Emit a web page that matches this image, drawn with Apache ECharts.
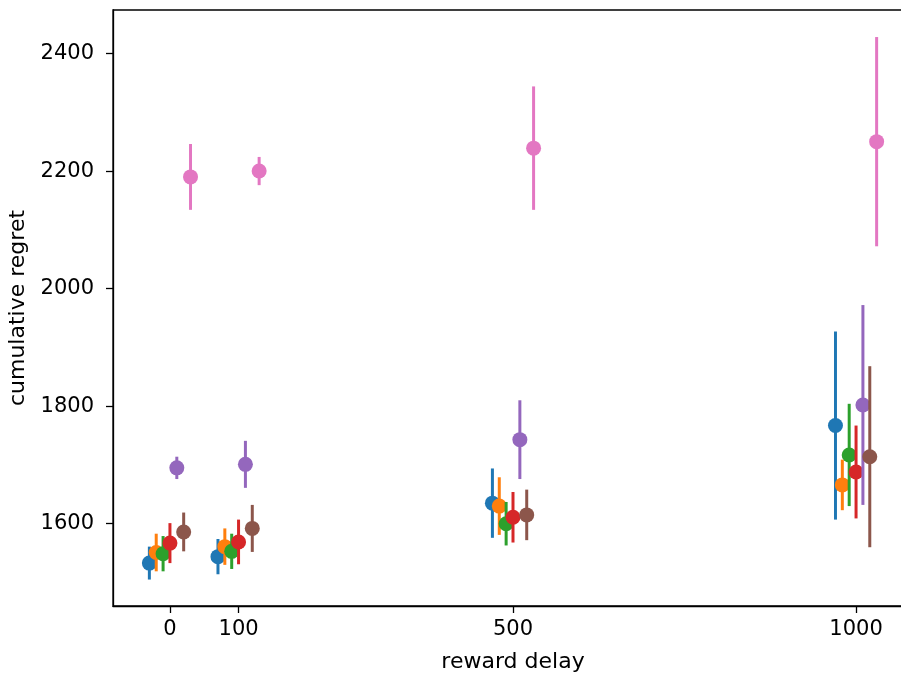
<!DOCTYPE html>
<html>
<head>
<meta charset="utf-8">
<script src="https://cdn.jsdelivr.net/npm/echarts@6/dist/echarts.min.js"></script>
<style>html,body{margin:0;padding:0;background:#fff}#c{width:901px;height:675px}</style>
</head>
<body>
<div id="c"></div>
<script>
var delays = [0, 100, 500, 1000];
var offsets = [-30, -20, -10, 0, 10, 20, 30];
var colors = ['#1f77b4', '#ff7f0e', '#2ca02c', '#d62728', '#9467bd', '#8c564b', '#e377c2'];
var xTicks = [0, 100, 500, 1000];
var yTicks = [1600, 1800, 2000, 2200, 2400];

// mean values per series at each delay
var mean0 = [1533, 1544, 1635, 1767];
var mean1 = [1551, 1561, 1630, 1666];
var mean2 = [1549, 1553, 1600, 1717];
var mean3 = [1567, 1569, 1611, 1688];
var mean4 = [1695, 1701, 1743, 1802];
var mean5 = [1586, 1592, 1615, 1714];
var mean6 = [2190, 2200, 2239, 2250];
// error half-widths
var err0 = [28, 30, 59, 160];
var err1 = [32, 31, 49, 43];
var err2 = [30, 30, 37, 87];
var err3 = [34, 38, 43, 79];
var err4 = [19, 40, 67, 170];
var err5 = [33, 40, 43, 154];
var err6 = [56, 24, 105, 178];

var means = [mean0, mean1, mean2, mean3, mean4, mean5, mean6];
var errs = [err0, err1, err2, err3, err4, err5, err6];

var series = [];
means.forEach(function (m, i) {
  var pts = [], bars = [];
  delays.forEach(function (d, j) {
    var x = d + offsets[i];
    pts.push([x, m[j]]);
    bars.push([x, m[j] - errs[i][j], m[j] + errs[i][j]]);
  });
  series.push({
    type: 'custom',
    z: 2 + 2 * i,
    silent: true,
    data: bars,
    encode: { x: 0, y: [1, 2] },
    renderItem: function (params, api) {
      var p1 = api.coord([api.value(0), api.value(1)]);
      var p2 = api.coord([api.value(0), api.value(2)]);
      return {
        type: 'line',
        shape: { x1: p1[0], y1: p1[1], x2: p2[0], y2: p2[1] },
        style: { stroke: colors[i], lineWidth: 3 }
      };
    }
  });
  series.push({
    type: 'scatter',
    z: 3 + 2 * i,
    silent: true,
    symbolSize: 15,
    itemStyle: { color: colors[i], opacity: 1 },
    data: pts
  });
});

var font = 'DejaVu Sans';
function plain(v) { return String(v); }
var chart = echarts.init(document.getElementById('c'));
chart.setOption({
  animation: false,
  backgroundColor: '#fff',
  grid: { left: 113, right: -12, top: 10, bottom: 69, containLabel: false, outerBoundsMode: 'none', show: true, borderColor: '#000', borderWidth: 1.3, backgroundColor: 'transparent' },
  xAxis: {
    type: 'value', min: -83, max: 1083,
    name: 'reward delay', nameLocation: 'middle', nameGap: 45,
    nameTextStyle: { fontFamily: font, fontSize: 22, color: '#000' },
    splitLine: { show: false },
    axisLine: { show: true, onZero: false, lineStyle: { color: '#000', width: 1.3 } },
    axisTick: { show: true, length: 7, customValues: xTicks, lineStyle: { color: '#000', width: 1.3 } },
    axisLabel: { customValues: xTicks, formatter: plain, margin: 13, fontFamily: font, fontSize: 21, color: '#000' }
  },
  yAxis: {
    type: 'value', min: 1460, max: 2474,
    name: 'cumulative regret', nameLocation: 'middle', nameGap: 81, nameRotate: 90,
    nameTextStyle: { fontFamily: font, fontSize: 22, color: '#000' },
    splitLine: { show: false },
    axisLine: { show: true, onZero: false, lineStyle: { color: '#000', width: 1.3 } },
    axisTick: { show: true, length: 7, customValues: yTicks, lineStyle: { color: '#000', width: 1.3 } },
    axisLabel: { customValues: yTicks, formatter: plain, margin: 19, fontFamily: font, fontSize: 21, color: '#000' }
  },
  series: series
});
</script>
</body>
</html>
